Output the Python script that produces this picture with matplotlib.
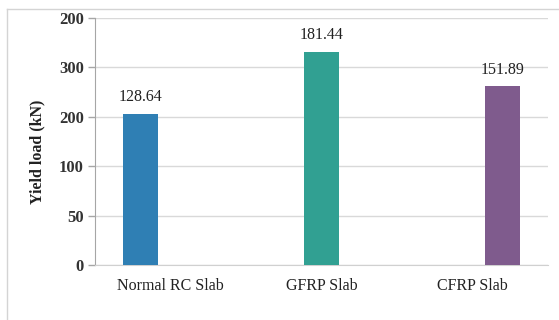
import matplotlib
matplotlib.use('Agg')
import matplotlib.pyplot as plt
from matplotlib.lines import Line2D
import numpy as np

slabs = ['Normal RC Slab', 'GFRP Slab', 'CFRP Slab']
yield_load = [128.64, 181.44, 151.89]
bar_colors = ['#2f7fb4', '#31a092', '#7f5b8d']
ytick_text = ['0', '50', '100', '200', '300', '200']

plt.rcParams['font.family'] = ['Liberation Serif', 'DejaVu Serif']

fig = plt.figure(figsize=(5.59, 3.20), dpi=100)
ax = fig.add_axes([95 / 559, 1 - 265 / 320, 453 / 559, 247 / 320])

# light frame lines along the left and top of the chart area
fig.add_artist(Line2D([7 / 559, 7 / 559], [0, 1 - 9 / 320],
                      transform=fig.transFigure, color='#d4d4d4', lw=1.0))
fig.add_artist(Line2D([7 / 559, 1], [1 - 9 / 320, 1 - 9 / 320],
                      transform=fig.transFigure, color='#d4d4d4', lw=1.0))

# clustered layout: each series sits at its own offset in the group
x = np.arange(len(slabs))
offsets = [-0.2, 0.0, 0.2]
for i, (val, col) in enumerate(zip(yield_load, bar_colors)):
    xpos = x[i] + offsets[i]
    ax.bar(xpos, val, width=0.23, color=col, zorder=3)
    ax.annotate(f'{val:.2f}', (xpos, val), xytext=(0, 6),
                textcoords='offset points', ha='center', va='bottom',
                fontsize=11.5, color='#222222')

y_top = 210
ax.set_ylim(0, y_top)
ax.set_xlim(-0.5, 2.5)
ax.set_yticks(np.linspace(0, y_top, 6))
ax.set_yticklabels(ytick_text, fontweight='bold', fontsize=12, color='#333333')
ax.set_xticks(x)
ax.set_xticklabels(slabs, fontsize=11.5, color='#222222')

ax.grid(axis='y', color='#d9d9d9', linewidth=1.0, zorder=0)
for s in ['top', 'right']:
    ax.spines[s].set_visible(False)
ax.spines['left'].set_color('#a6a6a6')
ax.spines['bottom'].set_color('#d0d0d0')
ax.tick_params(axis='y', length=5, width=1, color='#a6a6a6', pad=3)
ax.tick_params(axis='x', length=0, pad=9)

ax.set_ylabel('Yield load (kN)', fontweight='bold', fontsize=11.5, color='#222222')
ax.yaxis.set_label_coords(-50 / 453, 0.46)

fig.savefig('out.png', dpi=100)
